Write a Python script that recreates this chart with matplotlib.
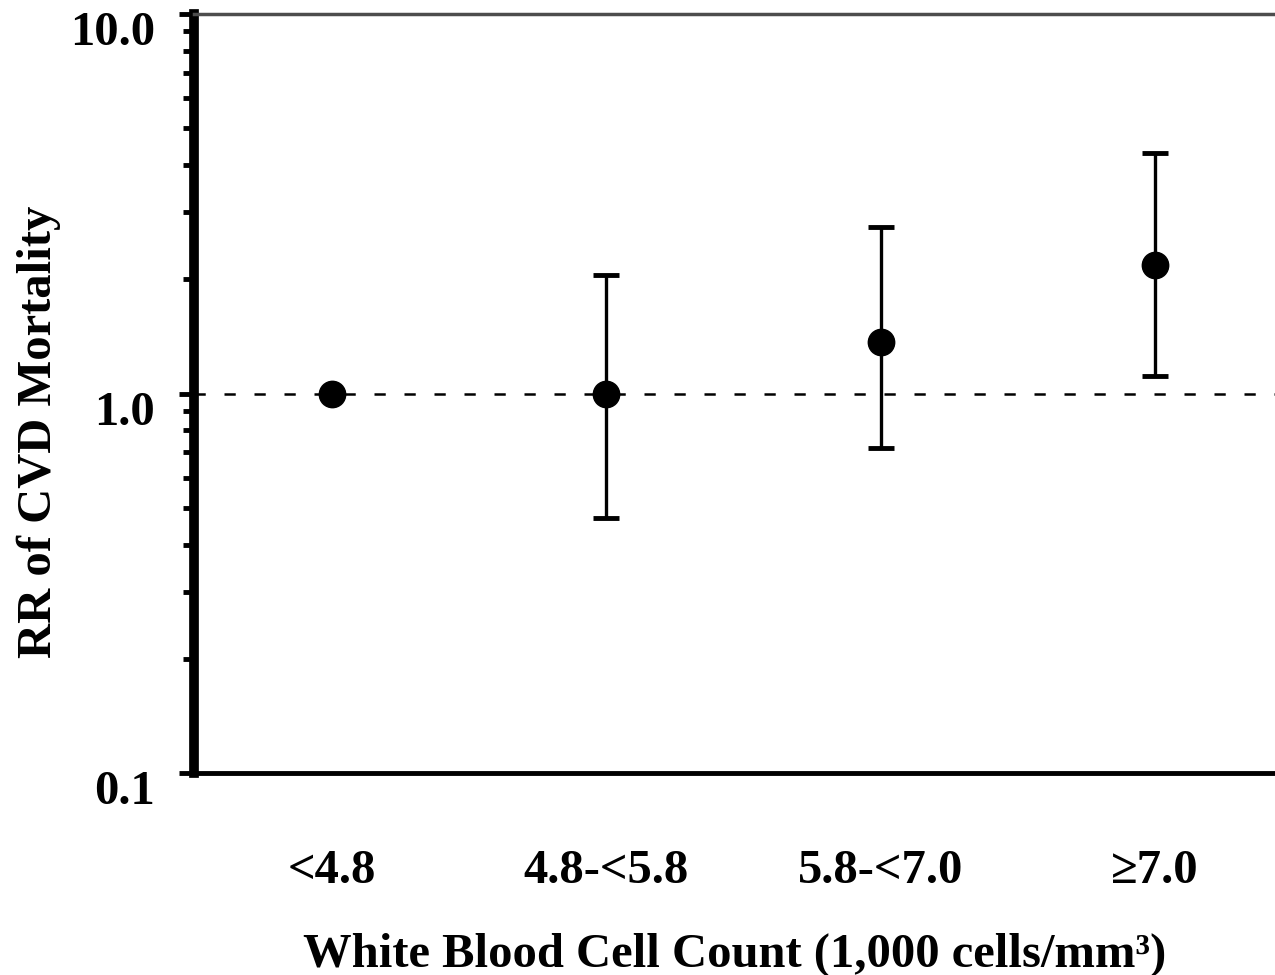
import numpy as np
import matplotlib
matplotlib.use('Agg')
import matplotlib.pyplot as plt
import matplotlib.transforms as mtransforms

plt.rcParams['font.family'] = ['Liberation Serif', 'DejaVu Serif']
plt.rcParams['font.weight'] = 'bold'

categories = ['<4.8', '4.8-<5.8', '5.8-<7.0', '\u22657.0']
rr = [1.0, 1.0, 1.37, 2.18]
ci_low = [None, 0.47, 0.72, 1.11]
ci_high = [None, 2.05, 2.75, 4.3]
ytick_vals = [0.1, 1.0, 10.0]
ytick_text = ['0.1', '1.0', '10.0']

fig = plt.figure(figsize=(12.75, 9.75), dpi=100)
ax = fig.add_axes([0.152, 0.2072, 0.848, 0.7784])

x = np.arange(1, len(categories) + 1)

# reference line at RR = 1
ax.axhline(1.0, color='black', lw=1.8, linestyle=(0, (4.5, 7.5)), zorder=1)

# confidence intervals (first category is the reference, no CI)
idx = [i for i in range(len(rr)) if ci_low[i] is not None]
xe = x[idx]
ye = np.array([rr[i] for i in idx])
lo = np.array([ci_low[i] for i in idx])
hi = np.array([ci_high[i] for i in idx])
ax.errorbar(xe, ye, yerr=[ye - lo, hi - ye], fmt='none', ecolor='black',
            elinewidth=2.4, capsize=9.5, capthick=3.5, zorder=2)
ax.plot(x, rr, 'o', color='black', markersize=19, zorder=3)

ax.set_yscale('log')
ax.set_ylim(0.1, 10)
ax.set_xlim(0.497, 4.4375)

ax.set_yticks(ytick_vals)
ax.set_yticklabels(ytick_text, fontsize=35, fontweight='bold')
ax.yaxis.set_minor_formatter(matplotlib.ticker.NullFormatter())
ax.tick_params(axis='y', which='major', length=11, width=3.5, pad=17)
ax.tick_params(axis='y', which='minor', length=8, width=3.5)
offset = mtransforms.ScaledTranslation(0, -14 / 100, fig.dpi_scale_trans)
for lab in ax.get_yticklabels():
    lab.set_transform(lab.get_transform() + offset)

ax.set_xticks(x)
ax.set_xticklabels(categories, fontsize=35, fontweight='bold')
ax.tick_params(axis='x', length=0, pad=55)

ax.set_xlabel('White Blood Cell Count (1,000 cells/mm\u00b3)', fontsize=35,
              fontweight='bold', labelpad=28)
ax.set_ylabel('RR of CVD Mortality', fontsize=35, fontweight='bold', va='center')
ax.yaxis.set_label_coords(-0.143, 0.449)

ax.spines['right'].set_visible(False)
ax.spines['left'].set_linewidth(7)
ax.spines['bottom'].set_linewidth(3.5)
ax.spines['top'].set_linewidth(2.5)
ax.spines['top'].set_color('0.3')

fig.savefig('out.png', dpi=100)
